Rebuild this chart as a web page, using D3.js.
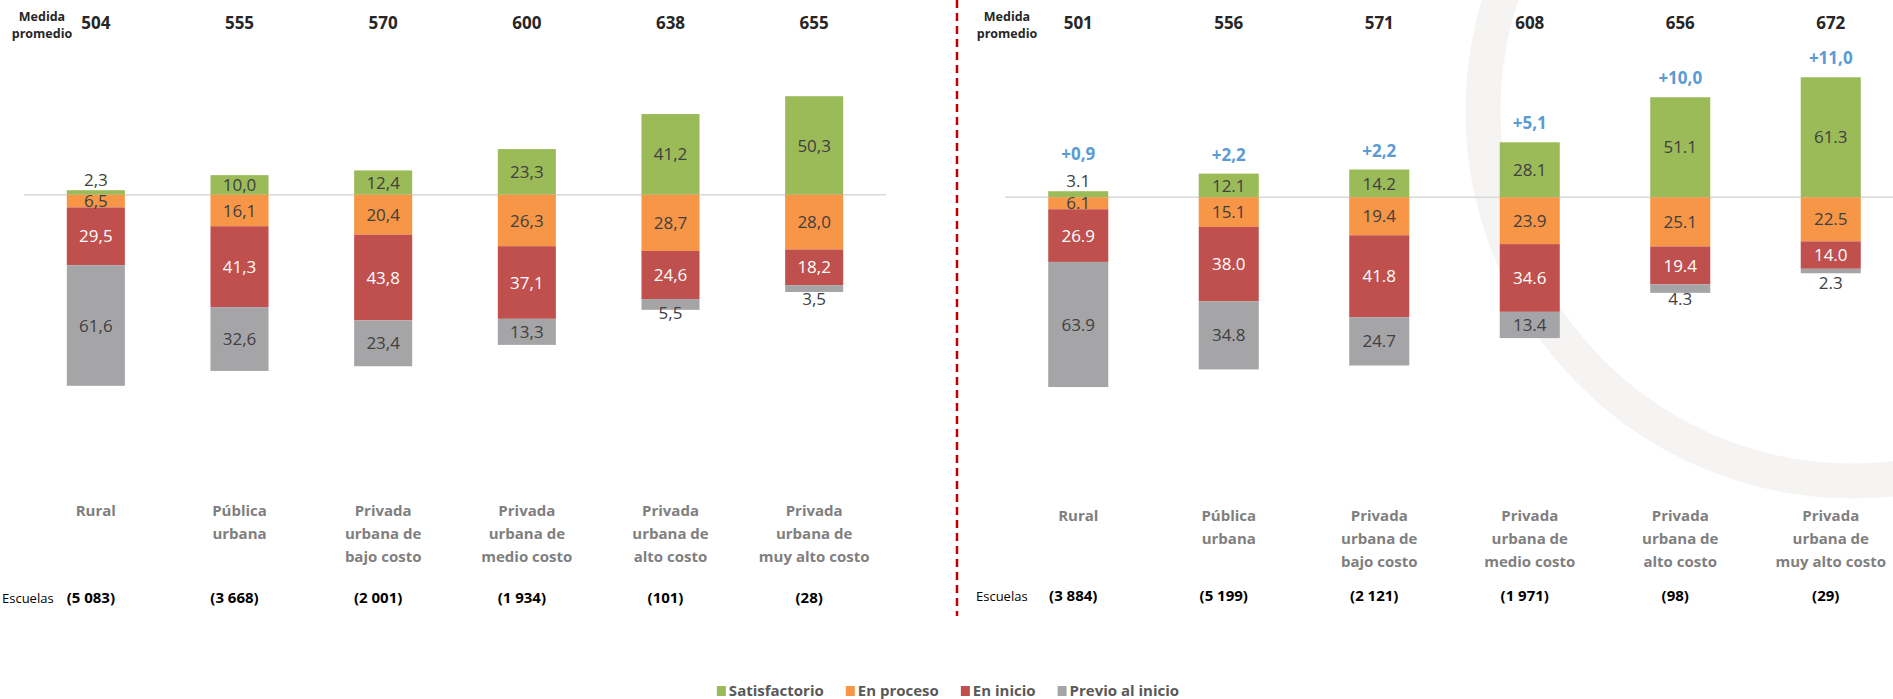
<!DOCTYPE html>
<html>
<head>
<meta charset="utf-8">
<script src="https://cdn.jsdelivr.net/npm/d3@7"></script>
<style>
  body { margin: 0; background: #fff; }
  svg { display: block; font-family: 'Open Sans', sans-serif; }
</style>
</head>
<body>
<svg id="chart" width="1893" height="699"></svg>
<script>

// categories (label lines)
var categorias = [
	['Rural'],
	['Pública', 'urbana'],
	['Privada', 'urbana de', 'bajo costo'],
	['Privada', 'urbana de', 'medio costo'],
	['Privada', 'urbana de', 'alto costo'],
	['Privada', 'urbana de', 'muy alto costo']
];

var series = ['Satisfactorio', 'En proceso', 'En inicio', 'Previo al inicio'];
var colores = ['#9bbb59', '#f79646', '#c0504d', '#a5a5a8'];

// left panel
var satisfactorioA = [2.3, 10.0, 12.4, 23.3, 41.2, 50.3];
var enProcesoA = [6.5, 16.1, 20.4, 26.3, 28.7, 28.0];
var enInicioA = [29.5, 41.3, 43.8, 37.1, 24.6, 18.2];
var previoA = [61.6, 32.6, 23.4, 13.3, 5.5, 3.5];
var medidaA = [504, 555, 570, 600, 638, 655];
var escuelasA = ['(5 083)', '(3 668)', '(2 001)', '(1 934)', '(101)', '(28)'];

// right panel
var satisfactorioB = [3.1, 12.1, 14.2, 28.1, 51.1, 61.3];
var enProcesoB = [6.1, 15.1, 19.4, 23.9, 25.1, 22.5];
var enInicioB = [26.9, 38.0, 41.8, 34.6, 19.4, 14.0];
var previoB = [63.9, 34.8, 24.7, 13.4, 4.3, 2.3];
var medidaB = [501, 556, 571, 608, 656, 672];
var escuelasB = ['(3 884)', '(5 199)', '(2 121)', '(1 971)', '(98)', '(29)'];
var cambioB = ['+0,9', '+2,2', '+2,2', '+5,1', '+10,0', '+11,0'];

var svg = d3.select('#chart');

// faint watermark ring behind the right panel
svg.append('circle')
	.attr('cx', 1853).attr('cy', 111).attr('r', 370)
	.attr('fill', 'none')
	.attr('stroke', '#f5f4f2')
	.attr('stroke-width', 35);

// dashed separator
svg.append('line')
	.attr('x1', 957).attr('x2', 957)
	.attr('y1', 0).attr('y2', 616)
	.attr('stroke', '#c00000')
	.attr('stroke-width', 2.5)
	.attr('stroke-dasharray', '8,5');

function drawPanel(p) {
	var g = svg.append('g');
	var idx = d3.range(categorias.length);

	var x = d3.scaleBand().domain(idx).range(p.xRange)
		.paddingInner(p.pad).paddingOuter(p.pad / 2);
	var y = d3.scaleLinear().domain([0, 100]).range([p.zero, p.zero - 195.8]);

	var rows = idx.map(function (i) {
		return {
			i: i,
			'Satisfactorio': p.sat[i],
			'En proceso': -p.proc[i],
			'En inicio': -p.ini[i],
			'Previo al inicio': -p.prev[i]
		};
	});

	var stacked = d3.stack().keys(series).offset(d3.stackOffsetDiverging)(rows);

	// zero line
	g.append('line')
		.attr('x1', p.lineX[0]).attr('x2', p.lineX[1])
		.attr('y1', y(0)).attr('y2', y(0))
		.attr('stroke', '#d9d9d9').attr('stroke-width', 1.5);

	var layer = g.selectAll('g.layer')
		.data(stacked)
		.enter().append('g')
		.attr('class', 'layer')
		.attr('fill', function (d, k) { return colores[k]; });

	layer.selectAll('rect')
		.data(function (d) { return d; })
		.enter().append('rect')
		.attr('x', function (d) { return x(d.data.i); })
		.attr('width', x.bandwidth())
		.attr('y', function (d) { return y(Math.max(d[0], d[1])); })
		.attr('height', function (d) { return Math.abs(y(d[0]) - y(d[1])); });

	// data labels
	stacked.forEach(function (s, k) {
		g.selectAll(null)
			.data(s)
			.enter().append('text')
			.attr('x', function (d) { return x(d.data.i) + x.bandwidth() / 2; })
			.attr('y', function (d) {
				var v = Math.abs(d[1] - d[0]);
				if (v < 6 && k === 0) return y(d[1]) - 10;
				if (v < 6 && k === 3) return y(d[1]) + 14;
				return (y(d[0]) + y(d[1])) / 2;
			})
			.attr('dy', '0.36em')
			.attr('text-anchor', 'middle')
			.style('font-size', '17px')
			.attr('fill', k === 2 ? '#ffffff' : '#404040')
			.text(function (d) { return p.fmt(Math.abs(d[1] - d[0])); });
	});

	// change vs previous evaluation
	if (p.cambio) {
		g.selectAll(null)
			.data(idx)
			.enter().append('text')
			.attr('x', function (i) { return x(i) + x.bandwidth() / 2; })
			.attr('y', function (i) {
				var top = p.sat[i] < 6 ? y(p.sat[i]) - 18 : y(p.sat[i]);
				return top - 19;
			})
			.attr('dy', '0.36em')
			.attr('text-anchor', 'middle')
			.style('font-size', '17px').style('font-weight', 'bold')
			.attr('fill', '#5b9bd5')
			.text(function (i) { return p.cambio[i]; });
	}

	// medida promedio
	var head = g.append('text')
		.attr('text-anchor', 'middle')
		.style('font-size', '12.5px').style('font-weight', 'bold')
		.attr('fill', '#262626');
	head.append('tspan').attr('x', p.headX).attr('y', 21).text('Medida');
	head.append('tspan').attr('x', p.headX).attr('y', 38).text('promedio');

	g.selectAll(null)
		.data(idx)
		.enter().append('text')
		.attr('x', function (i) { return x(i) + x.bandwidth() / 2; })
		.attr('y', 23)
		.attr('dy', '0.36em')
		.attr('text-anchor', 'middle')
		.style('font-size', '17px').style('font-weight', 'bold')
		.attr('fill', '#262626')
		.text(function (i) { return p.medida[i]; });

	// category labels
	var cat = g.selectAll(null)
		.data(idx)
		.enter().append('text')
		.attr('text-anchor', 'middle')
		.style('font-size', '15px').style('font-weight', 'bold')
		.attr('fill', '#7f7f7f');
	cat.selectAll('tspan')
		.data(function (i) {
			return categorias[i].map(function (t) { return { i: i, t: t }; });
		})
		.enter().append('tspan')
		.attr('x', function (d) { return x(d.i) + x.bandwidth() / 2; })
		.attr('y', function (d, n) { return p.catY + n * 23; })
		.attr('dy', '0.36em')
		.text(function (d) { return d.t; });

	// escuelas
	g.append('text')
		.attr('x', p.escX).attr('y', p.escY)
		.attr('dy', '0.36em')
		.style('font-size', '13px')
		.attr('fill', '#000')
		.text('Escuelas');

	g.selectAll(null)
		.data(idx)
		.enter().append('text')
		.attr('x', function (i) { return x(i) + x.bandwidth() / 2 - 5; })
		.attr('y', p.escY)
		.attr('dy', '0.36em')
		.attr('text-anchor', 'middle')
		.style('font-size', '15px').style('font-weight', 'bold')
		.attr('fill', '#000')
		.text(function (i) { return p.escuelas[i]; });
}

var comma = function (v) { return d3.format('.1f')(v).replace('.', ','); };
var point = d3.format('.1f');

drawPanel({
	sat: satisfactorioA, proc: enProcesoA, ini: enInicioA, prev: previoA,
	medida: medidaA, escuelas: escuelasA, cambio: null, fmt: comma,
	xRange: [24, 886], pad: 0.596, zero: 194.7, lineX: [24, 886],
	headX: 42, catY: 511, escX: 2, escY: 598
});

drawPanel({
	sat: satisfactorioB, proc: enProcesoB, ini: enInicioB, prev: previoB,
	medida: medidaB, escuelas: escuelasB, cambio: cambioB, fmt: point,
	xRange: [1003, 1906], pad: 0.601, zero: 197.3, lineX: [1005, 1893],
	headX: 1007, catY: 516, escX: 976, escY: 596
});

// legend
var legend = svg.append('g');
var lx = 0;
series.forEach(function (s, k) {
	var item = legend.append('g').attr('transform', 'translate(' + lx + ',0)');
	item.append('rect')
		.attr('x', 0).attr('y', -5).attr('width', 9).attr('height', 10)
		.attr('fill', colores[k]);
	var t = item.append('text')
		.attr('x', 12).attr('y', 0).attr('dy', '0.36em')
		.style('font-size', '15px').style('font-weight', 'bold')
		.attr('fill', '#595959')
		.text(s);
	lx += 12 + t.node().getComputedTextLength() + 22;
});
var legendW = lx - 22;
legend.attr('transform', 'translate(' + (948 - legendW / 2) + ',691)');

</script>
</body>
</html>
